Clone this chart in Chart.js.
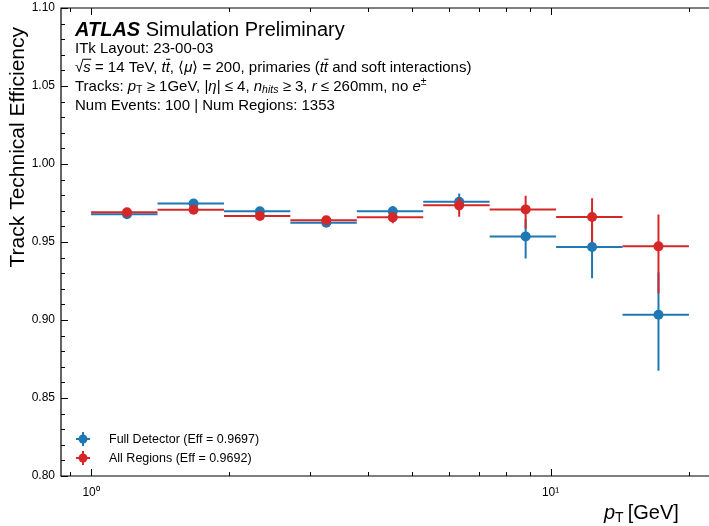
<!DOCTYPE html>
<html>
<head>
<meta charset="utf-8">
<script src="https://cdn.jsdelivr.net/npm/chart.js@4"></script>
<style>
  html, body { margin: 0; padding: 0; background: #fff; }
  #wrap { width: 709px; height: 526px; }
</style>
</head>
<body>
<div id="wrap"><canvas id="myChart" width="709" height="526"></canvas></div>
<script>
// pT bins (log spaced edges, 1 -> 20 GeV) and bin centres
const binEdges = [1.0, 1.395, 1.946, 2.714, 3.787, 5.282, 7.368, 10.28, 14.34, 20.0];
const binCenters = [1.197, 1.671, 2.330, 3.250, 4.534, 6.325, 8.824, 12.31, 17.17];

// Full Detector efficiency + asymmetric errors
const fullEff = [0.9678, 0.9746, 0.9697, 0.9624, 0.9697, 0.9758, 0.9536, 0.9468, 0.9034];
const fullErrLo = [0.002, 0.002, 0.002, 0.002, 0.003, 0.005, 0.0141, 0.020, 0.0359];
const fullErrHi = [0.002, 0.002, 0.002, 0.002, 0.0034, 0.0053, 0.011, 0.015, 0.027];

// All Regions efficiency + asymmetric errors
const regEff = [0.9690, 0.9707, 0.9667, 0.9639, 0.9658, 0.9735, 0.9709, 0.9660, 0.9472];
const regErrLo = [0.002, 0.002, 0.002, 0.002, 0.0038, 0.0073, 0.0122, 0.016, 0.030];
const regErrHi = [0.002, 0.002, 0.002, 0.002, 0.003, 0.005, 0.0088, 0.012, 0.0205];

const yTicks = [0.80, 0.85, 0.90, 0.95, 1.00, 1.05, 1.10];
const xMajorTicks = [1, 10];
const xMinorTicks = [0.9, 2, 3, 4, 5, 6, 7, 8, 9, 20];

const BLUE = "#1f77b4";
const RED = "#d62728";
const FONT = "'Liberation Sans', Arial, Helvetica, sans-serif";

// per-dataset error info, looked up by dataset index
const errInfo = [
    { lo: fullErrLo, hi: fullErrHi, eff: fullEff },
    { lo: regErrLo, hi: regErrHi, eff: regEff },
];

function toPoints(eff) {
    return binCenters.map((x, i) => ({ x: x, y: eff[i] }));
}

// draw a run of text pieces with italic / sub / sup / overline
function drawRich(ctx, x, y, size, parts) {
    ctx.save();
    ctx.textBaseline = "alphabetic";
    ctx.textAlign = "left";
    ctx.fillStyle = "#000";
    for (const p of parts) {
        let s = size * (p.scale || 1);
        let style = (p.it ? "italic " : "") + (p.b ? "bold " : "");
        ctx.font = style + s + "px " + FONT;
        let dy = (p.dy || 0) * size;
        ctx.fillText(p.t, x, y + dy);
        let w = ctx.measureText(p.t).width;
        if (p.over) {
            ctx.strokeStyle = "#000";
            ctx.lineWidth = 1;
            ctx.beginPath();
            ctx.moveTo(x + (p.overOff || 0), y - size * (p.overH || 0.78));
            ctx.lineTo(x + w + 0.5, y - size * (p.overH || 0.78));
            ctx.stroke();
        }
        x += w + (p.gap || 0);
    }
    ctx.restore();
}

const errorBars = {
    id: "errorBars",
    beforeDatasetDraw(chart, args) {
        const info = errInfo[args.index];
        if (!info) return;
        const { ctx, scales } = chart;
        const xs = scales.x, ys = scales.y;
        const color = chart.data.datasets[args.index].borderColor;
        ctx.save();
        ctx.strokeStyle = color;
        ctx.lineWidth = 2;
        for (let i = 0; i < binCenters.length; i++) {
            const py = ys.getPixelForValue(info.eff[i]);
            const px = xs.getPixelForValue(binCenters[i]);
            ctx.beginPath();
            ctx.moveTo(xs.getPixelForValue(binEdges[i]), py);
            ctx.lineTo(xs.getPixelForValue(binEdges[i + 1]), py);
            ctx.moveTo(px, ys.getPixelForValue(info.eff[i] - info.lo[i]));
            ctx.lineTo(px, ys.getPixelForValue(info.eff[i] + info.hi[i]));
            ctx.stroke();
        }
        ctx.restore();
    },
};

const frameAndText = {
    id: "frameAndText",
    afterDraw(chart) {
        const { ctx, chartArea: a, scales } = chart;
        const xs = scales.x, ys = scales.y;
        ctx.save();
        ctx.strokeStyle = "#000";
        ctx.lineWidth = 1.2;
        ctx.beginPath();
        ctx.moveTo(chart.width, a.top);
        ctx.lineTo(a.left, a.top);
        ctx.lineTo(a.left, a.bottom);
        ctx.lineTo(chart.width, a.bottom);
        ctx.stroke();

        // inward ticks
        ctx.lineWidth = 1;
        ctx.beginPath();
        for (let v = 80; v <= 110; v++) {
            const py = Math.round(ys.getPixelForValue(v / 100)) + 0.5;
            const len = v % 5 === 0 ? 7 : 4;
            ctx.moveTo(a.left, py);
            ctx.lineTo(a.left + len, py);
        }
        for (const v of xMajorTicks) {
            const px = Math.round(xs.getPixelForValue(v)) + 0.5;
            ctx.moveTo(px, a.bottom); ctx.lineTo(px, a.bottom - 7);
            ctx.moveTo(px, a.top); ctx.lineTo(px, a.top + 7);
        }
        for (const v of xMinorTicks) {
            const px = Math.round(xs.getPixelForValue(v)) + 0.5;
            ctx.moveTo(px, a.bottom); ctx.lineTo(px, a.bottom - 4);
            ctx.moveTo(px, a.top); ctx.lineTo(px, a.top + 4);
        }
        ctx.stroke();

        // axis titles
        ctx.fillStyle = "#000";
        ctx.save();
        ctx.translate(24, 27);
        ctx.rotate(-Math.PI / 2);
        ctx.font = "21px " + FONT;
        ctx.textAlign = "right";
        ctx.textBaseline = "alphabetic";
        ctx.fillText("Track Technical Efficiency", 0, 0);
        ctx.restore();

        drawRich(ctx, 604, 519, 20, [
            { t: "p", it: true },
            { t: "T", scale: 0.7, dy: 0.15, gap: 4 },
            { t: "[GeV]" },
        ]);

        // ATLAS label block
        const x0 = 75;
        drawRich(ctx, x0, 36, 20, [
            { t: "ATLAS", it: true, b: true },
            { t: " Simulation Preliminary" },
        ]);
        const fs = 15;
        drawRich(ctx, x0, 53, fs, [{ t: "ITk Layout: 23-00-03" }]);
        drawRich(ctx, x0, 72, fs, [
            { t: "\u221A" },
            { t: "s", it: true, over: true, overOff: -1, overH: 0.85 },
            { t: " = 14 TeV, " },
            { t: "t", it: true },
            { t: "t", it: true, over: true, overOff: 0.5, overH: 0.85 },
            { t: ", \u27E8" },
            { t: "\u03BC", it: true },
            { t: "\u27E9 = 200, primaries (" },
            { t: "t", it: true },
            { t: "t", it: true, over: true, overOff: 0.5, overH: 0.85 },
            { t: " and soft interactions)" },
        ]);
        drawRich(ctx, x0, 91, fs, [
            { t: "Tracks: " },
            { t: "p", it: true },
            { t: "T", scale: 0.7, dy: 0.15 },
            { t: " \u2265 1GeV, |" },
            { t: "\u03B7", it: true },
            { t: "| \u2264 4, " },
            { t: "n", it: true },
            { t: "hits", it: true, scale: 0.7, dy: 0.15 },
            { t: " \u2265 3, " },
            { t: "r", it: true },
            { t: " \u2264 260mm, no " },
            { t: "e", it: true },
            { t: "\u00B1", scale: 0.7, dy: -0.4 },
        ]);
        drawRich(ctx, x0, 110, fs, [{ t: "Num Events: 100 | Num Regions: 1353" }]);

        // legend
        const items = chart.data.datasets;
        items.forEach((ds, i) => {
            const cy = 439 + i * 19;
            const cx = 83;
            ctx.strokeStyle = ds.borderColor;
            ctx.fillStyle = ds.backgroundColor;
            ctx.lineWidth = 2;
            ctx.beginPath();
            ctx.moveTo(cx - 7, cy); ctx.lineTo(cx + 7, cy);
            ctx.moveTo(cx, cy - 7); ctx.lineTo(cx, cy + 7);
            ctx.stroke();
            ctx.beginPath();
            ctx.arc(cx, cy, 4.5, 0, Math.PI * 2);
            ctx.fill();
            ctx.fillStyle = "#000";
            ctx.font = "12.5px " + FONT;
            ctx.textAlign = "left";
            ctx.textBaseline = "middle";
            ctx.fillText(ds.label, 109, cy + 0.5);
        });
        ctx.restore();
    },
};

const myChart = new Chart("myChart", {
    type: "scatter",
    data: {
        datasets: [
            {
                label: "Full Detector (Eff = 0.9697)",
                data: toPoints(fullEff),
                borderColor: BLUE,
                backgroundColor: BLUE,
                pointRadius: 5,
                pointBorderWidth: 0,
                pointHoverRadius: 5,
                order: 2,
            },
            {
                label: "All Regions (Eff = 0.9692)",
                data: toPoints(regEff),
                borderColor: RED,
                backgroundColor: RED,
                pointRadius: 5,
                pointBorderWidth: 0,
                pointHoverRadius: 5,
                order: 1,
            },
        ],
    },
    options: {
        responsive: false,
        animation: false,
        layout: { padding: { top: 8, left: 0, right: 0, bottom: 0 } },
        plugins: {
            legend: { display: false },
            tooltip: { enabled: false },
        },
        scales: {
            x: {
                type: "logarithmic",
                min: 0.86,
                max: 21.57,
                grid: { display: false, drawTicks: false },
                border: { display: false },
                afterBuildTicks(scale) {
                    scale.ticks = xMajorTicks.map((v) => ({ value: v, major: true }));
                },
                afterFit(scale) {
                    scale.height = 50;
                    scale.paddingLeft = 0;
                    scale.paddingRight = 0;
                },
                ticks: {
                    autoSkip: false,
                    maxRotation: 0,
                    padding: 9,
                    color: "#000",
                    font: { family: FONT, size: 12 },
                    callback: (v) => (v === 1 ? "10\u2070" : "10\u00B9"),
                },
            },
            y: {
                min: 0.8,
                max: 1.1,
                grid: { display: false, drawTicks: false },
                border: { display: false },
                afterBuildTicks(scale) {
                    scale.ticks = yTicks.map((v) => ({ value: v }));
                },
                afterFit(scale) {
                    scale.width = 61;
                    scale.paddingTop = 0;
                    scale.paddingBottom = 0;
                },
                ticks: {
                    padding: 6,
                    color: "#000",
                    font: { family: FONT, size: 12 },
                    callback: (v) => Number(v).toFixed(2),
                },
            },
        },
    },
    plugins: [errorBars, frameAndText],
});
</script>
</body>
</html>
